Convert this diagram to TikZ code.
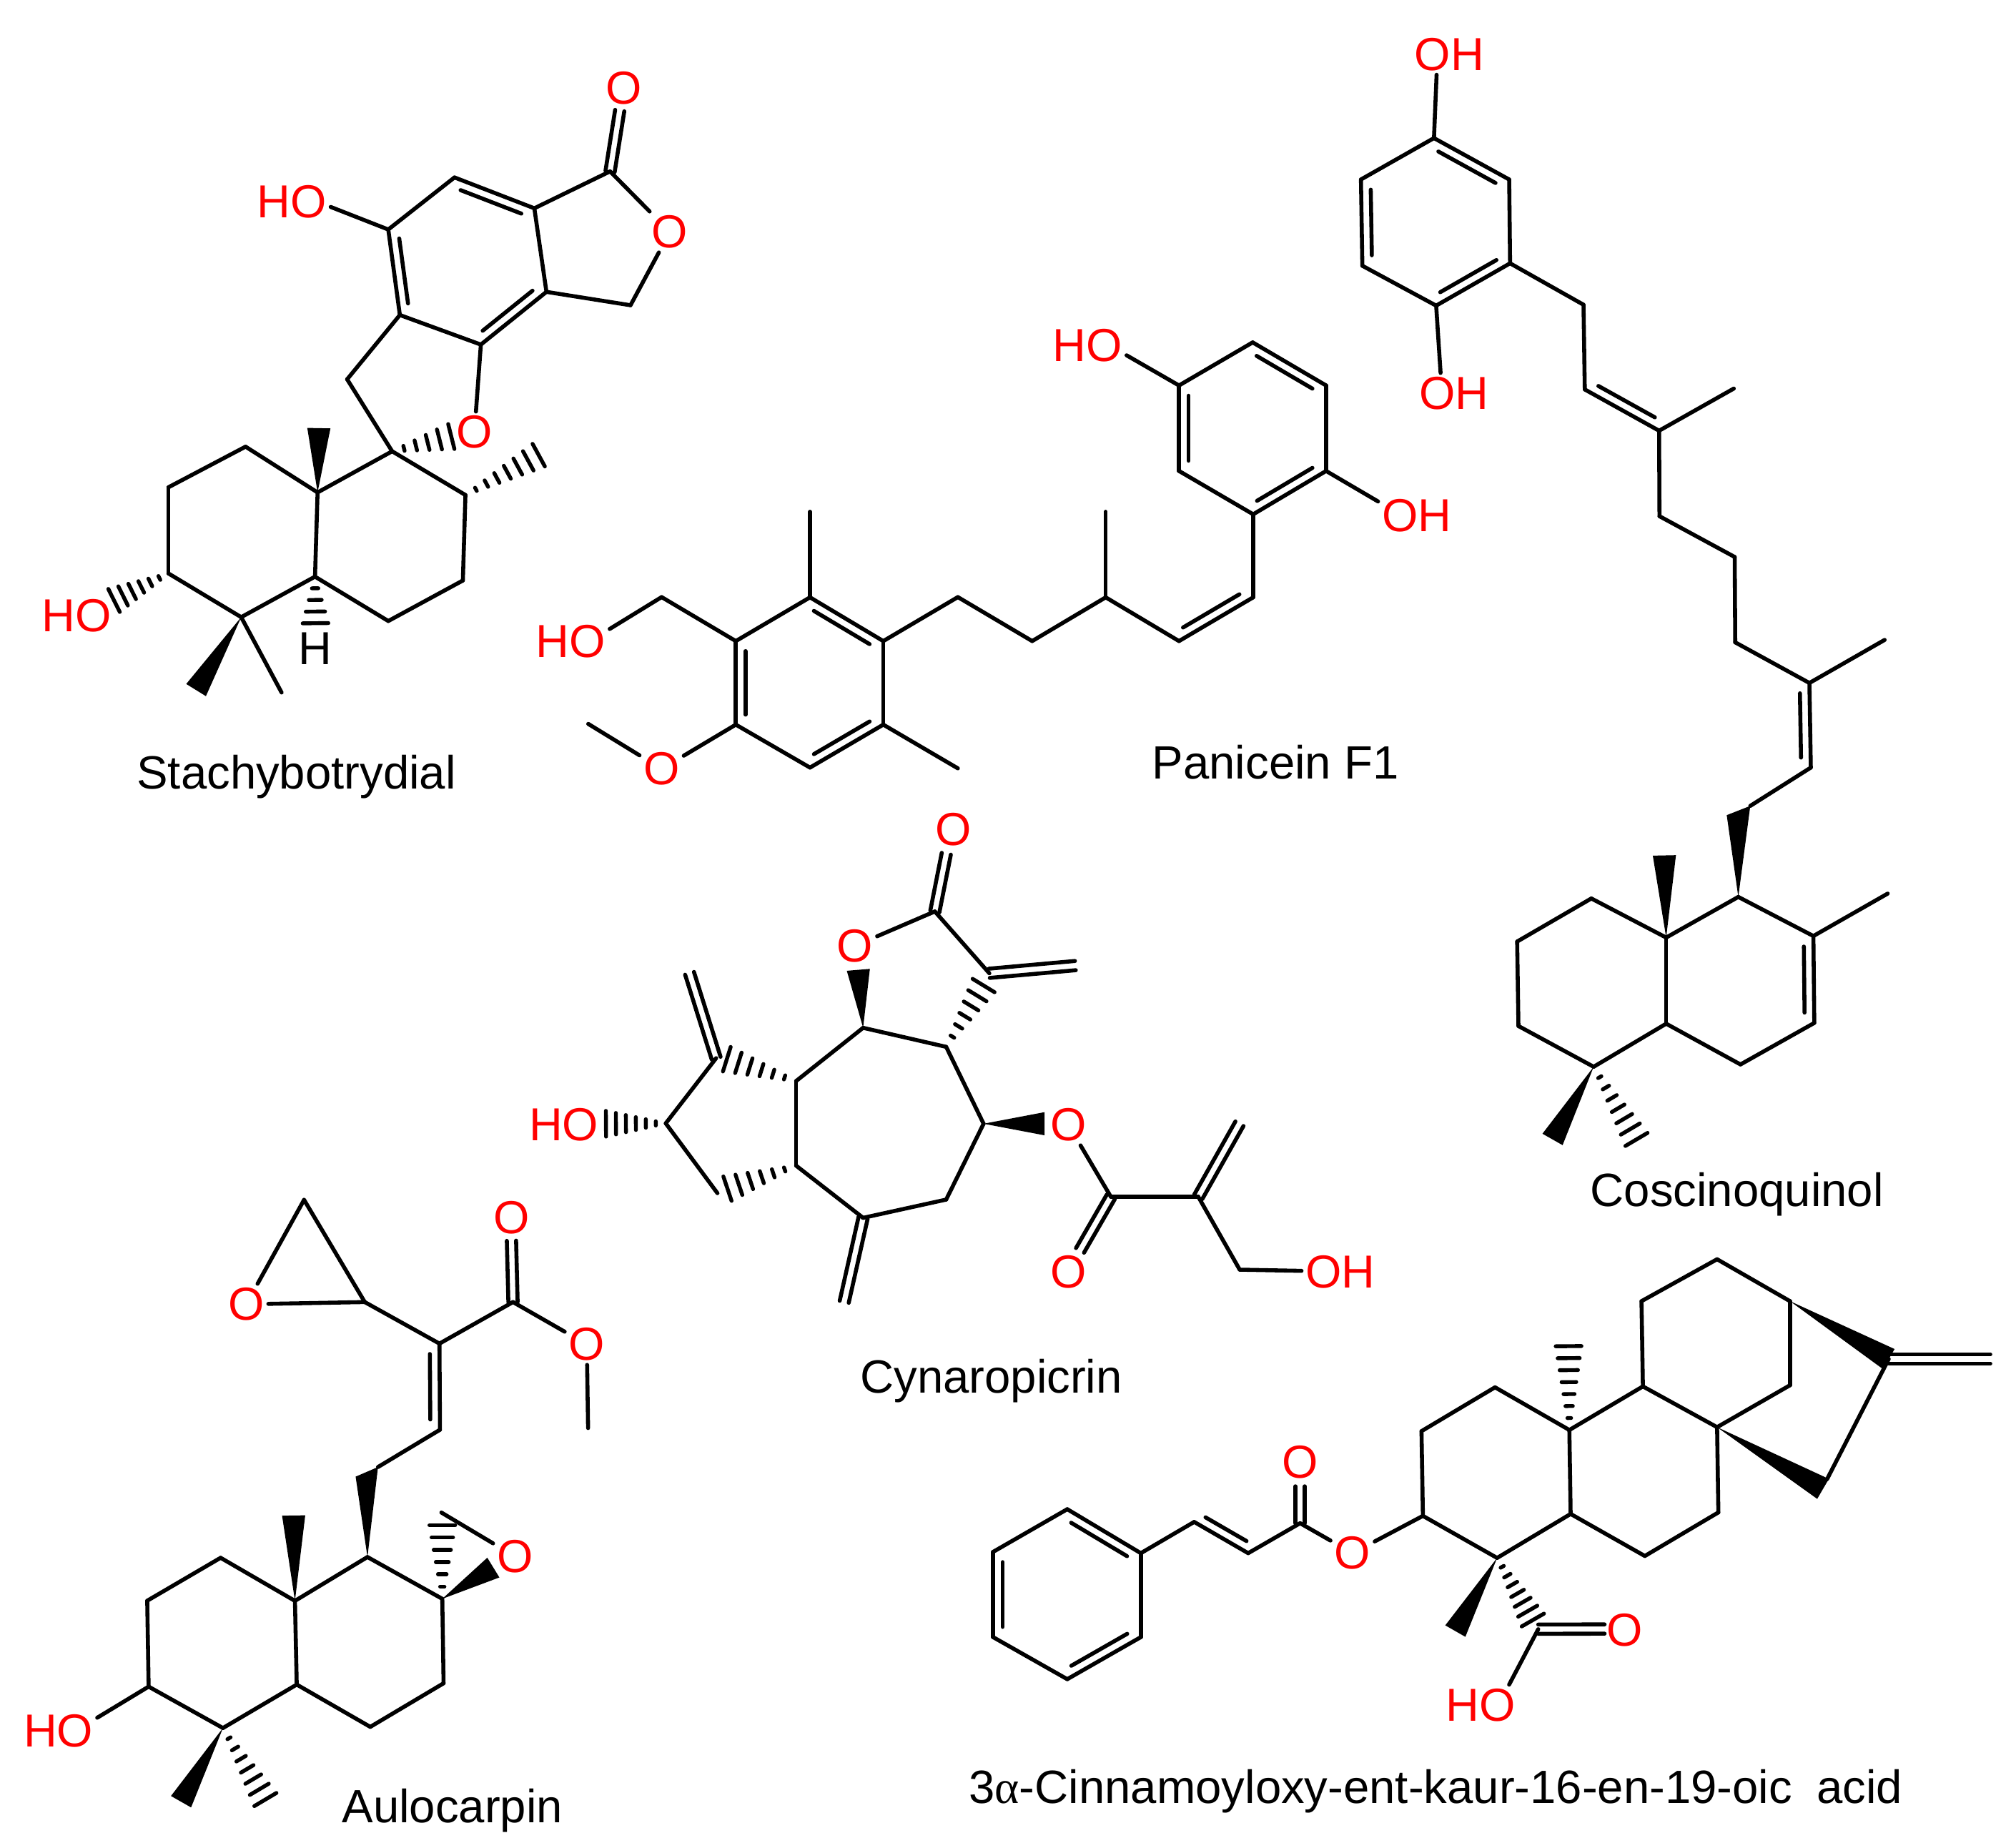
\documentclass[tikz,border=0pt]{standalone}
\usepackage{fontspec}
\setmainfont{Liberation Sans}
\newfontfamily\alphafont{Liberation Serif}
\usetikzlibrary{calc}
\tikzset{
  bond/.style={line width=3.1pt,line cap=round,line join=round},
  hashline/.style={line width=3pt,line cap=round},
  atomlabel/.style={text=red,inner sep=3pt,font=\fontsize{36}{40}\selectfont},
  hlabel/.style={inner sep=3pt,font=\fontsize{36}{40}\selectfont},
  molname/.style={inner sep=0pt,font=\fontsize{36.3}{42}\selectfont}
}
\begin{document}
\begin{tikzpicture}[x=1pt,y=-1pt]
  \useasboundingbox (0,0) rectangle (1568,1433);
  %\draw[help lines,step=100] (0,0) grid (1568,1433);
  \foreach \Name/\X/\Y in {
    % Stachybotrydial
    st1/131/379, st2/191/347.4, st3/247/383, st4/245/448.5, st5/187.6/480, st6/131/446,
    st7/305/351, st8/362/385, st9/360/451.5, st10/302/483, st11/270/295, st12/311/245,
    st13/374/268, st14/425/227, st15/415.6/162, st16/353.5/138, st17/302/178.5,
    st18/474.5/133.3, st19/490.4/237.4,
    stm1/248/333, stm2/419/354, stm3/351/339.5, stm4/88.7/467, stm5/152.5/536.7,
    stm6/219/538.6, stm7/245.4/484.7, stm8/482/86,
    % Panicein F1
    pa1/572.3/498.6, pa2/630/464.6, pa3/687/498.6, pa4/687/563.6, pa5/630/597, pa6/572.3/563.6,
    pa7/630/398, pa8/745/597.6, pa9/514.6/464.4, pa10/457.5/563, pa11/745/464.4,
    pa12/802.8/498.6, pa13/860/464.6, pa14/860/398, pa15/917/498.6, pa16/974.7/464.6,
    pa17/974.7/400, pa18/1031.4/366.3, pa19/1031.4/299.8, pa20/974.3/266.3, pa21/917/299.8,
    pa22/917/366.3,
    % Coscinoquinol
    co1/1058.5/139.6, co2/1115.3/107.4, co3/1173.8/139.6, co4/1174.5/204.8, co5/1117/237.7,
    co6/1059.6/206.7, co7/1231.6/237, co8/1232.6/302.9, co9/1290.4/335, co10/1348.5/302.2,
    co11/1290.7/401.5, co12/1349.2/433.2, co13/1349.6/499.6, co14/1407.3/531.2,
    co15/1465.8/497.7, co16/1408.4/597, co17/1361.3/626.8, co18/1352/697.6, co19/1237.7/698.8,
    co20/1295.9/729.2, co21/1410.4/728, co22/1411.1/795.6, co23/1353.7/827.9, co24/1295.9/796.2,
    co25/1239.5/829.7, co26/1181/798, co27/1180/732.3, co28/1468.2/695,
    com1/1343/634, com2/1294.5/665.3, com3/1207.5/886.2, com4/1272.8/886.2,
    % Cynaropicrin
    cy1/517.8/873.7, cy2/557/823, cy3/619.2/840.8, cy4/619.2/906.6, cy5/558/928, cy6/671.3/947.2,
    cy7/735.9/933, cy8/765/874, cy9/735.9/814.2, cy10/671.3/799.4, cy11/727.1/708.9,
    cy12/769.5/757, cy13/864/930.8, cy14/932/930.8, cy15/964.2/987.5,
    cym1/667.6/754.3, cym2/812.4/874, cym3/565.3/823.8, cym4/565.8/924.5, cym5/471.3/874,
    cym6/765/766.5, cym7/736/664, cym8/836.4/751, cym9/536.3/757, cym10/656.6/1012.5,
    cym11/840/972.5, cym12/964/874,
    % Aulocarpin
    au1/114.5/1245, au2/171.6/1211.6, au3/229.4/1245.1, au4/230.8/1310.2, au5/173.4/1344,
    au6/115.6/1311.8, au7/285.8/1211, au8/344/1243.5, au9/345/1309.2, au10/288/1343.1,
    au11/342.2/1112, au12/341.8/1045, au13/283.7/1012.7, au14/236.5/933.2, au15/399/1012.7,
    aum1/228.4/1178.7, aum2/276.6/1148.5, aum3/294/1141, aum4/397.8/965, aum5/457.4/1110.7,
    aum6/344/1186.3, aum7/343.3/1176.4, aum8/383.7/1219.2, aum9/140.8/1401.3, aum10/206.4/1399.6,
    % 3alpha-cinnamoyloxy acid
    ka1/1106.7/1179, ka2/1105.6/1113.1, ka3/1162.8/1079, ka4/1220.6/1112.2, ka5/1221.6/1177.5,
    ka6/1164.4/1211.7, ka7/1277.8/1078.3, ka8/1335.5/1110, ka9/1336.5/1176.3, ka10/1279.3/1210.2,
    ka11/1276.7/1012, ka12/1335.5/979.4, ka13/1392.2/1012, ka14/1392.2/1077.4, ka15/1469/1057,
    ka16/1548/1057, ka17/1421/1150.5, ka18/1196.4/1267.1, ka19/772.4/1207, ka20/830.1/1173.8,
    ka21/887.3/1208, ka22/887.3/1273.3, ka23/830.1/1306, ka24/772.4/1273.3, ka25/928.8/1183.7,
    ka26/970.8/1208, ka27/1011.2/1184.7,
    kam1/1220/1047, kam2/1131.9/1268.6, kam3/1192.2/1260, kam4/1011.2/1156, kam5/1248/1267,
    kam6/1417.9/1158}{\coordinate (\Name) at (\X,\Y);}

  \node[atomlabel] (stO1) at (485.4,68.5) {O};
  \node[atomlabel] (stO2) at (521,180.4) {O};
  \node[atomlabel] (stO3) at (369,336) {O};
  \node[atomlabel] (stHO1) at (227,156.7) {HO};
  \node[atomlabel] (stHO2) at (59.6,478.6) {HO};
  \node[hlabel] (stH) at (245.4,504.7) {H};
  \node[molname] (stName) at (230.5,604) {Stachybotrydial};

  \node[atomlabel] (paHO1) at (444,499) {HO};
  \node[atomlabel] (paO) at (514.6,598) {O};
  \node[atomlabel] (paHO2) at (846,268.8) {HO};
  \node[atomlabel] (paOH) at (1102,401) {OH};
  \node[molname] (paName) at (992,593) {Panicein F1};

  \node[atomlabel] (coOH1) at (1127.3,42.2) {OH};
  \node[atomlabel] (coOH2) at (1130.8,306) {OH};
  \node[molname] (coName) at (1351,929) {Coscinoquinol};

  \node[atomlabel] (cyO1) at (665,735.6) {O};
  \node[atomlabel] (cyO2) at (741.4,645) {O};
  \node[atomlabel] (cyO3) at (831,874.9) {O};
  \node[atomlabel] (cyO4) at (831,989) {O};
  \node[atomlabel] (cyHO) at (438.5,874.9) {HO};
  \node[atomlabel] (cyOH) at (1042.5,989) {OH};
  \node[molname] (cyName) at (771,1074) {Cynaropicrin};

  \node[atomlabel] (auO1) at (191.5,1014.4) {O};
  \node[atomlabel] (auO2) at (397.8,947) {O};
  \node[atomlabel] (auO3) at (456.4,1045.6) {O};
  \node[atomlabel] (auO4) at (400.7,1210.6) {O};
  \node[atomlabel] (auHO) at (45.4,1346.4) {HO};
  \node[molname] (auName) at (351.8,1408) {Aulocarpin};

  \node[atomlabel] (kaO1) at (1011.2,1137.4) {O};
  \node[atomlabel] (kaO2) at (1052,1208) {O};
  \node[atomlabel] (kaO3) at (1263.6,1268) {O};
  \node[atomlabel] (kaHO) at (1151.8,1326.2) {HO};
  \node[molname] (kaName) at (1116.7,1393) {3{\alphafont α}-Cinnamoyloxy-ent-kaur-16-en-19-oic\hspace{9pt} acid};

  % plain bonds
  \foreach \From/\To in {
    st1/st2, st2/st3, st3/st4, st4/st5, st5/st6, st6/st1, st3/st7, st7/st8, st8/st9, st9/st10,
    st10/st4, st7/st11, st11/st12, st12/st13, st13/st14, st14/st15, st15/st16, st16/st17,
    st17/st12, st15/st18, st18/stO2, stO2/st19, st19/st14, st13/stO3, st17/stHO1.-8, st5/stm6,
    pa1/pa2, pa2/pa3, pa3/pa4, pa4/pa5, pa5/pa6, pa6/pa1, pa2/pa7, pa4/pa8, pa1/pa9,
    pa9/paHO1.18, pa6/paO, paO/pa10, pa3/pa11, pa11/pa12, pa12/pa13, pa13/pa14, pa13/pa15,
    pa15/pa16, pa16/pa17, pa17/pa18, pa18/pa19, pa19/pa20, pa20/pa21, pa21/pa22, pa22/pa17,
    pa21/paHO2.-14, pa18/paOH.160,
    co1/co2, co2/co3, co3/co4, co4/co5, co5/co6, co6/co1, co2/coOH1.-122, co5/coOH2.123,
    co4/co7, co7/co8, co8/co9, co9/co10, co9/co11, co11/co12, co12/co13, co13/co14, co14/co15,
    co14/co16, co16/co17, co18/co21, co21/co22, co22/co23, co23/co24, co24/co20, co20/co18,
    co20/co19, co19/co27, co27/co26, co26/co25, co25/co24, co21/co28,
    cy1/cy2, cy3/cy4, cy4/cy6, cy6/cy7, cy7/cy8, cy8/cy9, cy9/cy10, cy10/cy3, cy1/cy5,
    cyO1/cy11, cy11/cy12, cyO3/cy13, cy13/cy14, cy14/cy15, cy15/cyOH,
    au1/au2, au2/au3, au3/au4, au4/au5, au5/au6, au6/au1, au3/au7, au7/au8, au8/au9, au9/au10,
    au10/au4, aum3/au11, au11/au12, au12/au13, au13/au14, au14/auO1, au13/auO1, au12/au15,
    au15/auO3, auO3/aum5, aum7/auO4, au6/auHO.19,
    ka1/ka2, ka2/ka3, ka3/ka4, ka4/ka5, ka5/ka6, ka6/ka1, ka4/ka7, ka7/ka8, ka8/ka9, ka9/ka10,
    ka10/ka5, ka7/ka11, ka11/ka12, ka12/ka13, ka13/ka14, ka14/ka8, ka15/ka17, ka19/ka20,
    ka20/ka21, ka21/ka22, ka22/ka23, ka23/ka24, ka24/ka19, ka21/ka25, ka25/ka26, ka26/ka27,
    ka27/kaO2, kaO2/ka1, ka18/kaHO.36}{\draw[bond] (\From) -- (\To);}

  % second line of a double bond, on the right hand of From to To
  \foreach \From/\To in {
    st16/st15, st14/st13, st12/st17,
    pa2/pa3, pa4/pa5, pa6/pa1, pa20/pa19, pa18/pa17, pa22/pa21, pa16/pa15,
    co2/co3, co4/co5, co6/co1, co9/co8, co14/co16, co21/co22,
    au12/au11,
    ka20/ka21, ka22/ka23, ka24/ka19, ka26/ka25}
    {\draw[bond] ($(\From)!.12!(\To)!7.5pt!-90:(\To)$) -- ($(\To)!.12!(\From)!7.5pt!90:(\From)$);}

  % double bonds to a free end, both lines beside the axis
  \foreach \From/\To in {
    st18/stm8,
    cy11/cym7, cy12/cym8, cy2/cym9, cy6/cym10, cy13/cym11, cy14/cym12,
    au15/aum4,
    ka27/kam4, ka15/ka16, ka18/kam5}{
    \draw[bond] ($(\From)!3.6pt!90:(\To)$) -- ($(\To)!3.6pt!-90:(\From)$);
    \draw[bond] ($(\From)!3.6pt!-90:(\To)$) -- ($(\To)!3.6pt!90:(\From)$);
  }

  % wedges
  \foreach \From/\To in {
    st3/stm1, st5/stm5,
    co20/com2, co25/com3,
    cy10/cym1, cy8/cym2,
    au3/aum1, au8/aum8, au5/aum9,
    ka13/ka15, ka8/kam6, ka6/kam2}
    {\fill (\From) -- ($(\To)!9pt!90:(\From)$) -- ($(\To)!9pt!-90:(\From)$) -- cycle;}
  \fill (co18) -- (com1) -- (co17) -- cycle;
  \fill (au7) -- (aum2) -- (aum3) -- cycle;

  % hashed wedges
  \foreach \From/\To/\Nbr in {
    st8/stm2/7, st7/stm3/5, st6/stm4/6, st4/stm7/4,
    co25/com4/7,
    cy3/cym3/6, cy4/cym4/6, cy1/cym5/6, cy9/cym6/6,
    au8/aum6/6, au5/aum10/7,
    ka4/kam1/7, ka6/kam3/7}{
    \foreach \i [evaluate=\i as \Pos using \i/\Nbr] in {1,...,\Nbr}
      {\draw[hashline] ($(\From)!\Pos!(\To)!\Pos*10pt!90:(\From)$) -- ($(\From)!\Pos!(\To)!\Pos*10pt!-90:(\From)$);}
  }
\end{tikzpicture}
\end{document}
